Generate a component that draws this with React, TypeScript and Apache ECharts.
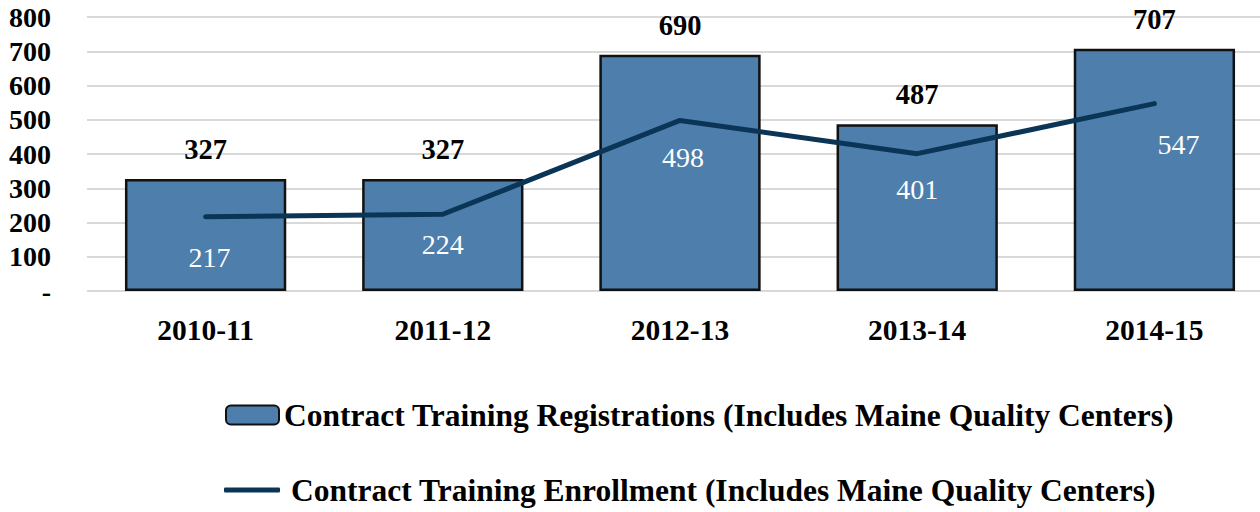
import React, { useEffect, useRef } from "react";
import * as echarts from "echarts";

const categories = ["2010-11", "2011-12", "2012-13", "2013-14", "2014-15"];
const registrations = [327, 327, 690, 487, 707];
const enrollment = [217, 224, 498, 401, 547];
const yTicks = { min: 0, max: 800, interval: 100 };
const barName = "Contract Training Registrations (Includes Maine Quality Centers)";
const lineName = "Contract Training Enrollment (Includes Maine Quality Centers)";

// label placement for the enrollment line (pixel offsets)
const lineLabelOffsets = [
  [4, 41],
  [0, 30],
  [3, 37],
  [0, 36],
  [24, 41],
];

const FONT = "Liberation Serif";

export default function App() {
  const ref = useRef<HTMLDivElement>(null);
  useEffect(() => {
    if (!ref.current) return;
    const chart = echarts.init(ref.current, null, { renderer: "svg" });
    chart.setOption({
      animation: false,
      backgroundColor: "#ffffff",
      textStyle: { fontFamily: FONT },
      grid: { left: 87, top: 17, width: 1186, height: 274, containLabel: false },
      legend: [
        {
          data: [barName],
          left: 225,
          top: 399,
          padding: 0,
          itemWidth: 53,
          itemHeight: 19,
          itemGap: 0,
          textStyle: { fontFamily: FONT, fontWeight: "bold", fontSize: 31.5, color: "#000" },
          selectedMode: false,
        },
        {
          data: [{ name: lineName, icon: "roundRect" }],
          left: 224,
          top: 474,
          padding: 0,
          itemWidth: 56,
          itemHeight: 5,
          itemGap: 0,
          textStyle: { fontFamily: FONT, fontWeight: "bold", fontSize: 31.5, color: "#000", padding: [0, 0, 0, 6] },
          selectedMode: false,
        },
      ],
      xAxis: {
        type: "category",
        data: categories,
        axisLine: { show: false },
        axisTick: { show: false },
        axisLabel: { margin: 24, fontFamily: FONT, fontWeight: "bold", fontSize: 29.5, color: "#000" },
      },
      yAxis: {
        type: "value",
        min: yTicks.min,
        max: yTicks.max,
        interval: yTicks.interval,
        axisLine: { show: false },
        axisTick: { show: false },
        splitLine: { lineStyle: { color: "#d9d9d9", width: 2 } },
        axisLabel: {
          margin: 36,
          fontFamily: FONT,
          fontWeight: "bold",
          fontSize: 28,
          color: "#000",
          formatter: (v: number) => (v === 0 ? "-" : String(v)),
        },
      },
      series: [
        {
          name: barName,
          type: "bar",
          data: registrations,
          barCategoryGap: "32%",
          itemStyle: { color: "#4e7eab", borderColor: "#111", borderWidth: 2.5 },
          label: {
            show: true,
            position: "top",
            distance: 15,
            fontFamily: FONT,
            fontWeight: "bold",
            fontSize: 28.5,
            color: "#000",
          },
        },
        {
          name: lineName,
          type: "line",
          data: enrollment.map((v, i) => ({
            value: v,
            label: { offset: lineLabelOffsets[i] },
          })),
          symbol: "circle",
          symbolSize: 0.1,
          showSymbol: true,
          lineStyle: { color: "#0b3556", width: 5, cap: "round", join: "round" },
          itemStyle: { color: "#0b3556" },
          label: {
            show: true,
            position: "inside",
            fontFamily: FONT,
            fontSize: 28,
            color: "#ffffff",
          },
        },
      ],
    });
    return () => chart.dispose();
  }, []);
  return (
    <div style={{ position: "absolute", left: 0, top: 0, width: 1260, height: 512, overflow: "hidden" }}>
      <div ref={ref} style={{ width: 1300, height: 512 }} />
    </div>
  );
}
